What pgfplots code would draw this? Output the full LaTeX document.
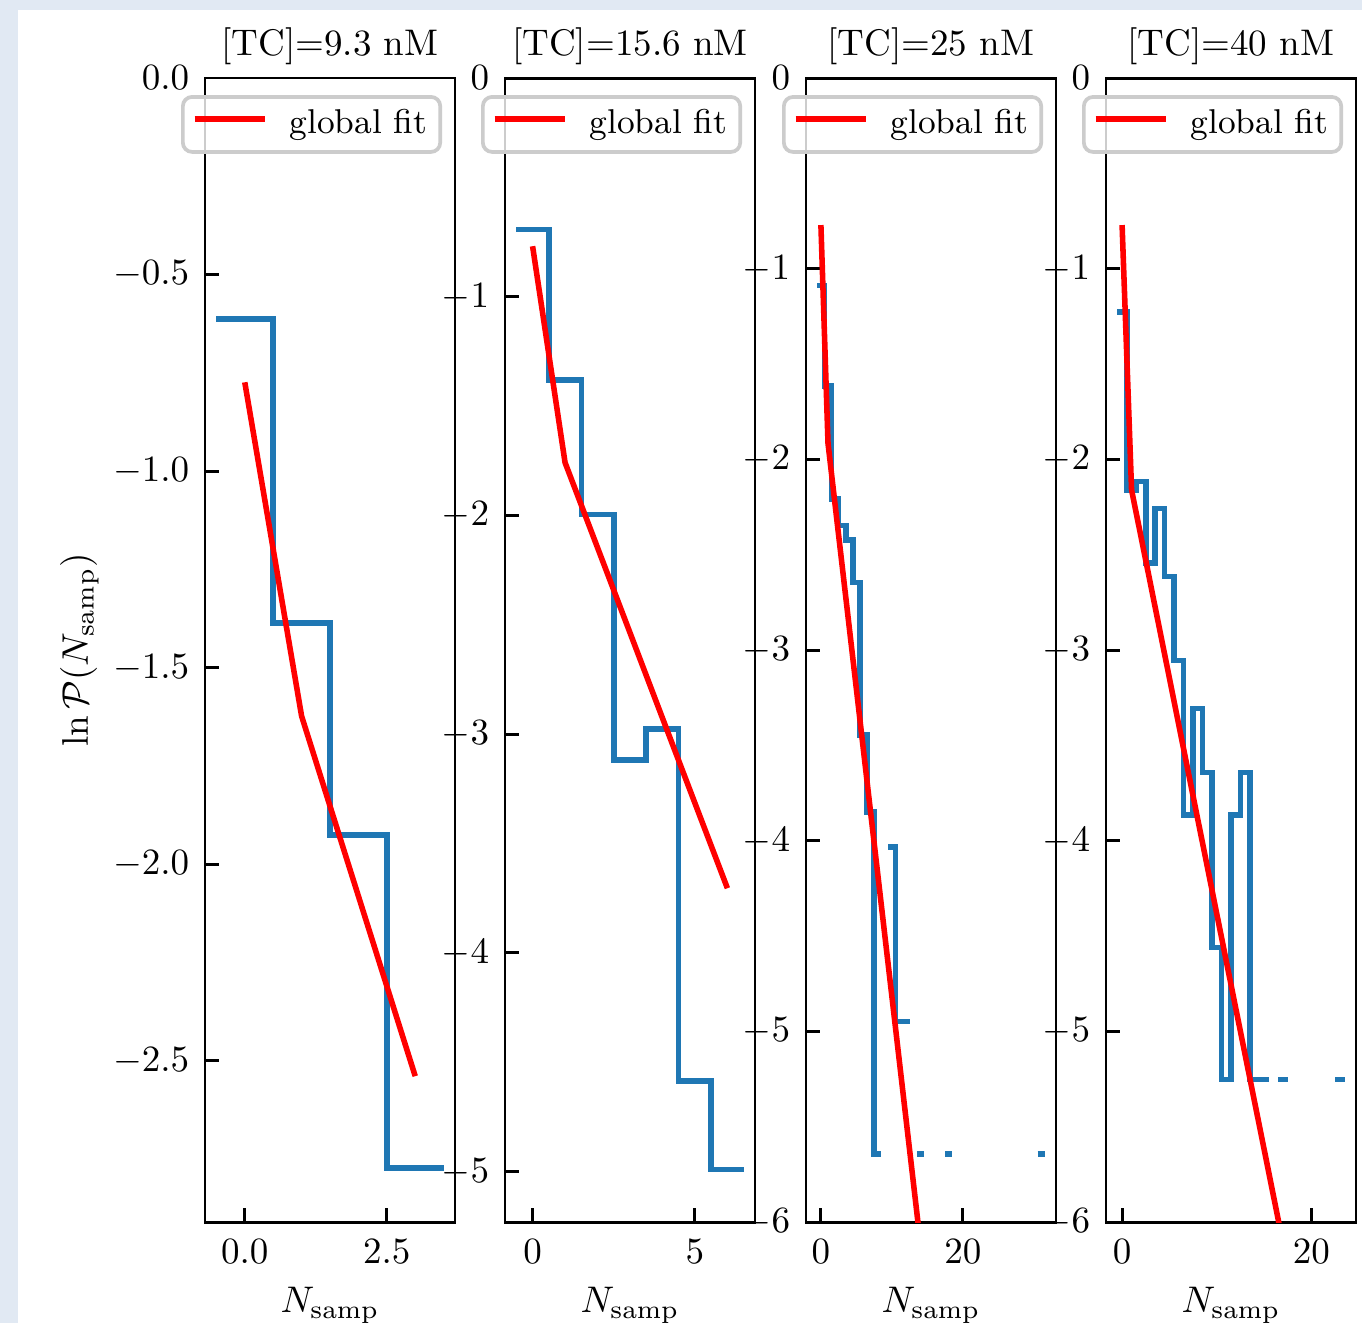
\documentclass[border=0pt]{standalone}
\usepackage{pgfplots}
\pgfplotsset{compat=1.18}

\definecolor{stepblue}{RGB}{31,119,180}
\definecolor{backdrop}{RGB}{225,233,243}
\definecolor{legframe}{RGB}{204,204,204}

\pgfplotsset{
  panel/.style={
    scale only axis,
    width=67.5pt, height=308.88pt,
    anchor=south west,
    axis line style={line width=0.8pt},
    major tick style={line width=0.8pt, black},
    major tick length=3.8pt,
    tick align=inside,
    xtick pos=left, ytick pos=left,
    ymax=0,
    clip=true,
    unbounded coords=jump,
    title style={at={(axis description cs:0.5,1.0201)}, anchor=base, yshift=-6pt, inner sep=0pt},
    xlabel={$N_{\mathrm{samp}}$},
    xlabel style={at={(axis description cs:0.5,-0.0795)}, anchor=base, inner sep=0pt},
    xticklabel style={anchor=base, inner sep=0pt, yshift=-11.07pt},
    yticklabel style={anchor=east, inner sep=0pt, xshift=-4.05pt},
    legend style={
      at={(axis description cs:-0.096,0.9851)}, anchor=north west,
      draw=legframe, line width=1pt, rounded corners=2.5pt,
      fill=white, fill opacity=0.8, text opacity=1,
      inner xsep=2.44pt, inner ysep=3.4pt,
      font=\fontsize{9.3}{11}\selectfont,
      nodes={inner sep=0pt},
      /tikz/every odd column/.append style={column sep=4.9pt},
      /tikz/every even column/.append style={nodes={inner xsep=1.06pt}},
    },
    legend image code/.code={\draw[#1] (0pt,1.4pt) -- (18.9pt,1.4pt);},
  },
  stepline/.style={stepblue, line width=1.5pt, forget plot},
  fitline/.style={red, line width=1.5pt},
}

\begin{document}
\begin{tikzpicture}
% page: 367.74pt x 357.21pt
\useasboundingbox (0pt,0pt) rectangle (367.74pt,-357.21pt);
\fill[backdrop] (0pt,0pt) rectangle (367.74pt,-357.21pt);
\fill[white] (4.86pt,-2.7pt) rectangle (367.74pt,-357.21pt);

% [TC] = 9.3 nM
\begin{axis}[panel, at={(55.35pt,-329.94pt)},
  title={[TC]=9.3 nM},
  xmin=-0.7, xmax=3.7, ymin=-2.91,
  xtick={0,2.5}, ytick={0,-0.5,-1,-1.5,-2,-2.5},
  xticklabel style={/pgf/number format/fixed, /pgf/number format/fixed zerofill, /pgf/number format/precision=1},
  yticklabel style={/pgf/number format/fixed, /pgf/number format/fixed zerofill, /pgf/number format/precision=1},
  ylabel={$\ln \mathcal{P}(N_{\mathrm{samp}})$},
  ylabel style={at={(axis description cs:-0.468,0.5)}, anchor=base, inner sep=0pt},
]
\addplot[stepline] table[row sep=\\] {
x y \\
-0.5 -0.6131 \\ 0.5 -0.6131 \\
0.5 -1.3863 \\ 1.5 -1.3863 \\
1.5 -1.9253 \\ 2.5 -1.9253 \\
2.5 -2.7726 \\ 3.5 -2.7726 \\
};
\addplot[fitline] table[row sep=\\] {
x y \\
0 -0.774 \\ 1 -1.623 \\ 2 -2.081 \\ 3 -2.539 \\
};
\addlegendentry{global fit}
\end{axis}

% [TC] = 15.6 nM
\begin{axis}[panel, at={(136.35pt,-329.94pt)},
  title={[TC]=15.6 nM},
  xmin=-0.85, xmax=6.85, ymin=-5.23,
  xtick={0,5}, ytick={0,-1,-2,-3,-4,-5},
]
\addplot[stepline] table[row sep=\\] {
x y \\
-0.5 -0.6931 \\ 0.5 -0.6931 \\
0.5 -1.3795 \\ 1.5 -1.3795 \\
1.5 -1.9947 \\ 2.5 -1.9947 \\
2.5 -3.1187 \\ 3.5 -3.1187 \\
3.5 -2.9755 \\ 4.5 -2.9755 \\
4.5 -4.5850 \\ 5.5 -4.5850 \\
5.5 -4.9905 \\ 6.5 -4.9905 \\
};
\addplot[fitline] table[row sep=\\] {
x y \\
0 -0.769 \\ 1 -1.758 \\ 2 -2.147 \\ 3 -2.536 \\ 4 -2.926 \\ 5 -3.315 \\ 6 -3.704 \\
};
\addlegendentry{global fit}
\end{axis}

% [TC] = 25 nM (empty bins are nan)
\begin{axis}[panel, at={(217.62pt,-329.94pt)},
  title={[TC]=25 nM},
  xmin=-2.1, xmax=33.1, ymin=-6,
  xtick={0,20}, ytick={0,-1,-2,-3,-4,-5,-6},
]
\addplot[stepline] table[row sep=\\] {
x y \\
-0.5 -1.0880 \\ 0.5 -1.0880 \\
0.5 -1.6165 \\ 1.5 -1.6165 \\
1.5 -2.2079 \\ 2.5 -2.2079 \\
2.5 -2.3461 \\ 3.5 -2.3461 \\
3.5 -2.4230 \\ 4.5 -2.4230 \\
4.5 -2.6462 \\ 5.5 -2.6462 \\
5.5 -3.4447 \\ 6.5 -3.4447 \\
6.5 -3.8501 \\ 7.5 -3.8501 \\
7.5 -5.6419 \\ 8.5 -5.6419 \\
9 nan \\
9.5 -4.0325 \\ 10.5 -4.0325 \\
10.5 -4.9488 \\ 12.5 -4.9488 \\
13 nan \\
13.5 -5.6419 \\ 14.5 -5.6419 \\
16 nan \\
17.5 -5.6419 \\ 18.5 -5.6419 \\
25 nan \\
30.5 -5.6419 \\ 31.5 -5.6419 \\
};
\addplot[fitline] table[row sep=\\] {
x y \\
0 -0.771 \\ 1 -1.916 \\ 2 -2.239 \\ 3 -2.561 \\ 4 -2.884 \\ 5 -3.206 \\
6 -3.529 \\ 7 -3.852 \\ 8 -4.174 \\ 9 -4.497 \\ 10 -4.819 \\ 11 -5.142 \\
12 -5.465 \\ 13 -5.787 \\ 14 -6.110 \\ 15 -6.432 \\
};
\addlegendentry{global fit}
\end{axis}

% [TC] = 40 nM (empty bins are nan)
\begin{axis}[panel, at={(298.62pt,-329.94pt)},
  title={[TC]=40 nM},
  xmin=-1.7, xmax=24.7, ymin=-6,
  xtick={0,20}, ytick={0,-1,-2,-3,-4,-5,-6},
]
\addplot[stepline] table[row sep=\\] {
x y \\
-0.5 -1.2269 \\ 0.5 -1.2269 \\
0.5 -2.1613 \\ 1.5 -2.1613 \\
1.5 -2.1168 \\ 2.5 -2.1168 \\
2.5 -2.5442 \\ 3.5 -2.5442 \\
3.5 -2.2566 \\ 4.5 -2.2566 \\
4.5 -2.6132 \\ 5.5 -2.6132 \\
5.5 -3.0551 \\ 6.5 -3.0551 \\
6.5 -3.8660 \\ 7.5 -3.8660 \\
7.5 -3.3064 \\ 8.5 -3.3064 \\
8.5 -3.6429 \\ 9.5 -3.6429 \\
9.5 -4.5592 \\ 10.5 -4.5592 \\
10.5 -5.2523 \\ 11.5 -5.2523 \\
11.5 -3.8660 \\ 12.5 -3.8660 \\
12.5 -3.6429 \\ 13.5 -3.6429 \\
13.5 -5.2523 \\ 15.5 -5.2523 \\
16 nan \\
16.5 -5.2523 \\ 17.5 -5.2523 \\
20 nan \\
22.5 -5.2523 \\ 23.5 -5.2523 \\
};
\addplot[fitline] table[row sep=\\] {
x y \\
0 -0.771 \\ 1 -2.160 \\ 2 -2.407 \\ 3 -2.654 \\ 4 -2.901 \\ 5 -3.148 \\
6 -3.396 \\ 7 -3.643 \\ 8 -3.890 \\ 9 -4.137 \\ 10 -4.384 \\ 11 -4.631 \\
12 -4.878 \\ 13 -5.125 \\ 14 -5.372 \\ 15 -5.619 \\ 16 -5.867 \\ 17 -6.114 \\
18 -6.361 \\
};
\addlegendentry{global fit}
\end{axis}
\end{tikzpicture}
\end{document}
